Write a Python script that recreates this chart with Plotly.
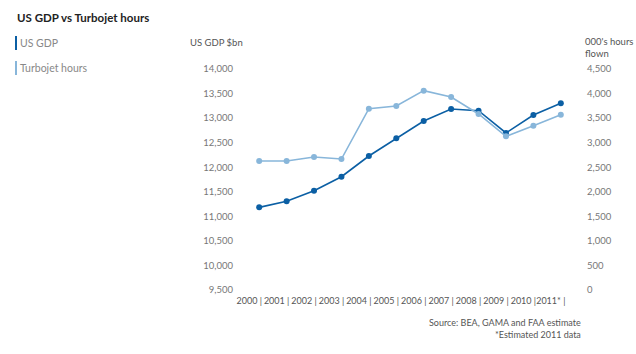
import plotly.graph_objects as go

years = ["2000", "2001", "2002", "2003", "2004", "2005", "2006", "2007", "2008", "2009", "2010", "2011*"]
gdp = [11183, 11306, 11521, 11807, 12228, 12589, 12941, 13185, 13151, 12697, 13063, 13301]
turbojet = [2626, 2626, 2708, 2667, 3692, 3746, 4059, 3930, 3584, 3129, 3346, 3570]
gdp_ticks = [9500, 10000, 10500, 11000, 11500, 12000, 12500, 13000, 13500, 14000]
hours_ticks = [0, 500, 1000, 1500, 2000, 2500, 3000, 3500, 4000, 4500]

DARK = "#0b5fa4"
LIGHT = "#88b6da"
FONT = "Lato"

xs = list(range(len(years)))

fig = go.Figure()
fig.add_trace(go.Scatter(x=xs, y=turbojet, yaxis="y2", mode="lines+markers",
                         line=dict(color=LIGHT, width=1.6), marker=dict(size=6, color=LIGHT),
                         name="Turbojet hours"))
fig.add_trace(go.Scatter(x=xs, y=gdp, yaxis="y", mode="lines+markers",
                         line=dict(color=DARK, width=1.6), marker=dict(size=6, color=DARK),
                         name="US GDP"))

L, R, T, B = 240, 56, 69, 64

fig.update_layout(
    width=636, height=354,
    margin=dict(l=L, r=R, t=T, b=B),
    paper_bgcolor="white", plot_bgcolor="white",
    showlegend=False,
    font=dict(family=FONT, size=10, color="#666666"),
    xaxis=dict(range=[-0.7, 11.7], tickmode="array", tickvals=xs,
               ticktext=[y + " |" for y in years], showgrid=False, zeroline=False,
               showline=False, ticks="", tickangle=0,
               tickfont=dict(size=9, color="#555555"),
               ticklabelshift=-10, ticklabelstandoff=4),
    yaxis=dict(range=[9500, 14000], tickvals=gdp_ticks, tickformat=",d",
               showgrid=False, zeroline=False, showline=False, ticks="",
               tickfont=dict(size=9.5, color="#777777"), ticklabelstandoff=6),
    yaxis2=dict(range=[0, 4500], tickvals=hours_ticks, tickformat=",d", overlaying="y",
                side="right", showgrid=False, zeroline=False, showline=False, ticks="",
                tickfont=dict(size=9.5, color="#777777"), ticklabelstandoff=6),
)


def to_paper(px, py):
    w = 636 - L - R
    h = 354 - T - B
    return (px - L) / w, (354 - B - py) / h


ann = [
    dict(text="<b>US GDP vs Turbojet hours</b>", x=15, y=18, font=dict(size=11.5, color="#222222")),
    dict(text="US GDP", x=18, y=43, font=dict(size=10.5, color="#888888")),
    dict(text="Turbojet hours", x=18, y=68, font=dict(size=10.5, color="#888888")),
    dict(text="US GDP $bn", x=188, y=43, font=dict(size=9.5, color="#555555")),
    dict(text="000's hours<br>flown", x=583, y=48, font=dict(size=9.5, color="#555555")),
]
annotations = []
for a in ann:
    xp, yp = to_paper(a["x"], a["y"])
    annotations.append(dict(text=a["text"], x=xp, y=yp, xref="paper", yref="paper",
                            xanchor="left", yanchor="middle", showarrow=False, font=a["font"],
                            align="left"))
for txt, py in [("Source: BEA, GAMA and FAA estimate", 322), ("*Estimated 2011 data", 334)]:
    xp, yp = to_paper(583, py)
    annotations.append(dict(text=txt, x=xp, y=yp, xref="paper", yref="paper", xanchor="right",
                            yanchor="middle", showarrow=False, font=dict(size=9, color="#555555")))
fig.update_layout(annotations=annotations)

shapes = []
for color, py in [(DARK, 43), (LIGHT, 68)]:
    x0, y0 = to_paper(15, py - 7)
    x1, y1 = to_paper(17, py + 7)
    shapes.append(dict(type="rect", xref="paper", yref="paper", x0=x0, x1=x1, y0=y1, y1=y0,
                       fillcolor=color, line=dict(width=0)))
fig.update_layout(shapes=shapes)

fig.write_html("out.html")
